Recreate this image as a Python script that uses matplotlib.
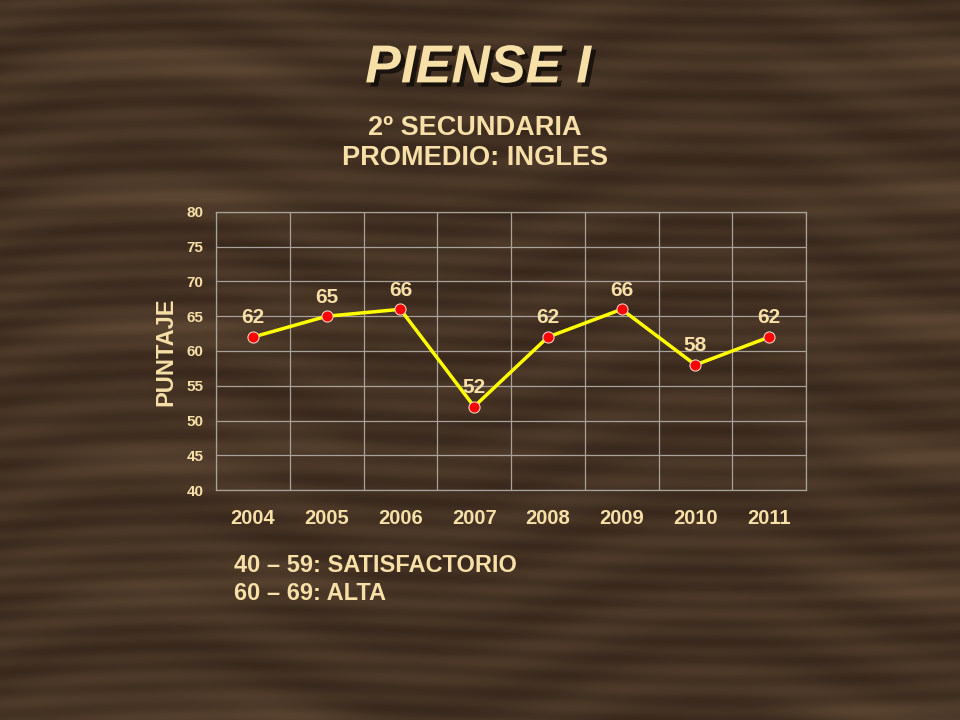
import numpy as np
import matplotlib
matplotlib.use('Agg')
import matplotlib.pyplot as plt
import matplotlib.patheffects as pe

plt.rcParams['font.family'] = ['Liberation Sans', 'DejaVu Sans']

years = ['2004', '2005', '2006', '2007', '2008', '2009', '2010', '2011']
scores = [62, 65, 66, 52, 62, 66, 58, 62]
y_ticks = [40, 45, 50, 55, 60, 65, 70, 75, 80]

cream = '#F7DFA8'
grid_c = '#A8A29A'

fig = plt.figure(figsize=(9.6, 7.2), dpi=100)

# wood-like background (decorative grain)
bg = fig.add_axes([0, 0, 1, 1], zorder=-10)
yy, xx = np.mgrid[0:720, 0:960]
grain = (np.sin(yy / 3.1 + 2.5 * np.sin(xx / 160.0) + 1.5 * np.sin(yy / 47.0)) * 0.5
         + np.sin(yy / 11.0 + np.sin(xx / 90.0) * 3) * 0.5)
knots = np.exp(-((np.mod(yy, 130) - 65) / 18.0) ** 2) * np.clip(np.sin(xx / 120.0), 0, 1)
val = 0.5 + 0.22 * grain + 0.35 * knots
dark = np.array([0x2C, 0x1E, 0x14]) / 255
light = np.array([0x6A, 0x52, 0x3C]) / 255
img = dark + np.clip(val, 0, 1)[..., None] * (light - dark) * 0.75
bg.imshow(img, aspect='auto', extent=[0, 1, 0, 1], origin='upper')
bg.set_axis_off()

ax = fig.add_axes([0.225, 0.3194, 0.6146, 0.3862])
ax.patch.set_alpha(0)
x = np.arange(len(years)) + 0.5
ax.plot(x, scores, color='#FFFF00', lw=2.5, zorder=3)
ax.plot(x, scores, 'o', color='#FF0000', mec='#F0D0C0', mew=0.8, ms=8, zorder=4)
for xi, s in zip(x, scores):
    ax.annotate(str(s), (xi, s), xytext=(0, 7), textcoords='offset points',
                ha='center', va='bottom', color=cream, fontsize=15, fontweight='bold')

ax.set_xlim(0, len(years))
ax.set_ylim(40, 80)
ax.set_yticks(y_ticks)
ax.set_xticks(np.arange(len(years) + 1), minor=False)
ax.set_xticklabels([])
ax.set_xticks(x, minor=True)
ax.set_xticklabels(years, minor=True)
ax.tick_params(axis='x', which='both', length=0)
ax.tick_params(axis='x', which='minor', pad=14, labelsize=14.5, labelcolor=cream)
ax.tick_params(axis='y', length=0, pad=9, labelsize=11, labelcolor=cream)
for lab in ax.get_xticklabels(minor=True) + ax.get_yticklabels():
    lab.set_fontweight('bold')
ax.grid(True, which='major', color=grid_c, lw=0.9)
for sp in ax.spines.values():
    sp.set_color(grid_c)
    sp.set_linewidth(0.9)
ax.set_ylabel('PUNTAJE', color=cream, fontsize=17, fontweight='bold')
ax.yaxis.set_label_coords(-0.066, 0.496)

fig.text(0.498, 0.905, 'PIENSE I', ha='center', va='center', color=cream,
         fontsize=38.5, fontweight='bold', fontstyle='italic',
         path_effects=[pe.withSimplePatchShadow(offset=(3, -3), shadow_rgbFace='black', alpha=0.6)])
fig.text(0.495, 0.822, '2º SECUNDARIA', ha='center', va='center', color=cream,
         fontsize=19.5, fontweight='bold')
fig.text(0.495, 0.780, 'PROMEDIO: INGLES', ha='center', va='center', color=cream,
         fontsize=19.5, fontweight='bold')

fig.text(0.244, 0.215, '40 – 59: SATISFACTORIO', ha='left', va='center', color=cream,
         fontsize=17, fontweight='bold')
fig.text(0.244, 0.175, '60 – 69: ALTA', ha='left', va='center', color=cream,
         fontsize=17, fontweight='bold')

fig.savefig('out.png', dpi=100)
